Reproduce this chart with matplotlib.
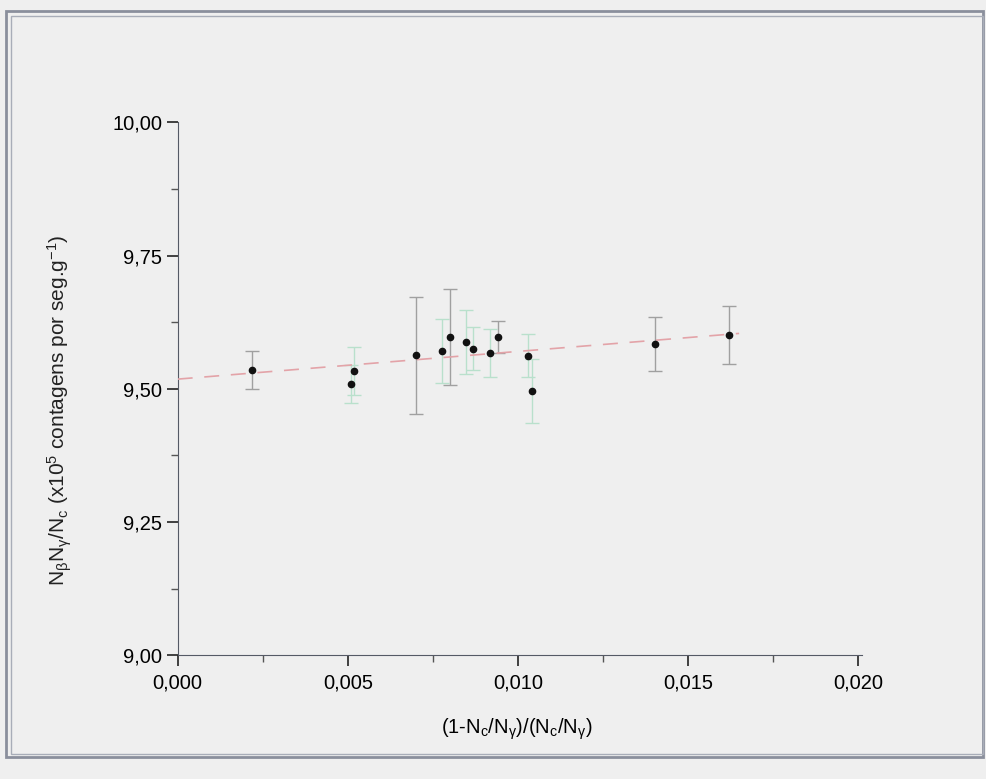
import numpy as np
import matplotlib.pyplot as plt
from matplotlib.patches import Rectangle
from matplotlib.ticker import MultipleLocator, FuncFormatter

plt.rcParams['font.family'] = ['Liberation Sans', 'DejaVu Sans']
plt.rcParams['mathtext.default'] = 'regular'

# dados
x_vals = [0.00219, 0.00519, 0.00510, 0.00700, 0.00778, 0.00800, 0.00848,
          0.00869, 0.00918, 0.00942, 0.01029, 0.01041, 0.01402, 0.01621]
y_vals = [9.535, 9.534, 9.509, 9.563, 9.571, 9.597, 9.588,
          9.575, 9.567, 9.597, 9.562, 9.496, 9.584, 9.601]
y_err = [0.035, 0.045, 0.035, 0.11, 0.06, 0.09, 0.06,
         0.04, 0.045, 0.03, 0.04, 0.06, 0.05, 0.055]
err_green = [False, True, True, False, True, False, True,
             True, True, False, True, True, False, False]

# reta ajustada
fit_intercept = 9.518
fit_slope = 5.2
fit_xmax = 0.0165

bg = '#efefef'
fig = plt.figure(figsize=(9.87, 7.79), dpi=100, facecolor=bg)

# moldura dupla
fig.patches.append(Rectangle((0.006, 0.028), 0.99, 0.958, transform=fig.transFigure,
                             fill=False, edgecolor='#8a8f9c', lw=2.0))
fig.patches.append(Rectangle((0.011, 0.032), 0.985, 0.948, transform=fig.transFigure,
                             fill=False, edgecolor='#a8adb8', lw=1.0))

ax = fig.add_axes([0.180, 0.159, 0.693, 0.684])
ax.set_facecolor(bg)

for xi, yi, ei, g in zip(x_vals, y_vals, y_err, err_green):
    ax.errorbar(xi, yi, yerr=ei, fmt='none', ecolor='#b9e0cc' if g else '#a0a0a0',
                elinewidth=1.0, capsize=5, capthick=1.0, zorder=2)

ax.plot(x_vals, y_vals, 'o', color='#111111', markersize=4.5, zorder=4)

xf = np.array([0.0, fit_xmax])
ax.plot(xf, fit_intercept + fit_slope * xf, color='#e3a3a8', lw=1.2,
        dashes=(9, 7), zorder=3)

ax.set_xlim(0, 0.0201)
ax.set_ylim(9.0, 10.0)

for s in ['top', 'right']:
    ax.spines[s].set_visible(False)
ax.spines['left'].set_color('#555a66')
ax.spines['bottom'].set_color('#555a66')

ax.xaxis.set_major_locator(MultipleLocator(0.005))
ax.xaxis.set_minor_locator(MultipleLocator(0.0025))
ax.yaxis.set_major_locator(MultipleLocator(0.25))
ax.yaxis.set_minor_locator(MultipleLocator(0.125))

ax.xaxis.set_major_formatter(FuncFormatter(lambda v, p: f"{v:.3f}".replace('.', ',')))
ax.yaxis.set_major_formatter(FuncFormatter(lambda v, p: f"{v:.2f}".replace('.', ',')))

ax.tick_params(axis='both', which='major', labelsize=14.5, length=8, width=1.2,
               color='#222222', direction='out', pad=3)
ax.tick_params(axis='x', which='major', pad=5)
ax.tick_params(axis='both', which='minor', length=5, width=1.0, color='#555555',
               direction='out')

ax.set_xlabel(r"(1-N$_c$/N$_\gamma$)/(N$_c$/N$_\gamma$)", fontsize=14.5)
ax.xaxis.set_label_coords(0.495, -0.115)
ax.set_ylabel(r"N$_\beta$N$_\gamma$/N$_c$ (x10$^5$ contagens por seg.g$^{-1}$)",
              fontsize=15, color='#222222')
ax.yaxis.set_label_coords(-0.152, 0.46)

fig.savefig('out.png', dpi=100, facecolor=bg)
